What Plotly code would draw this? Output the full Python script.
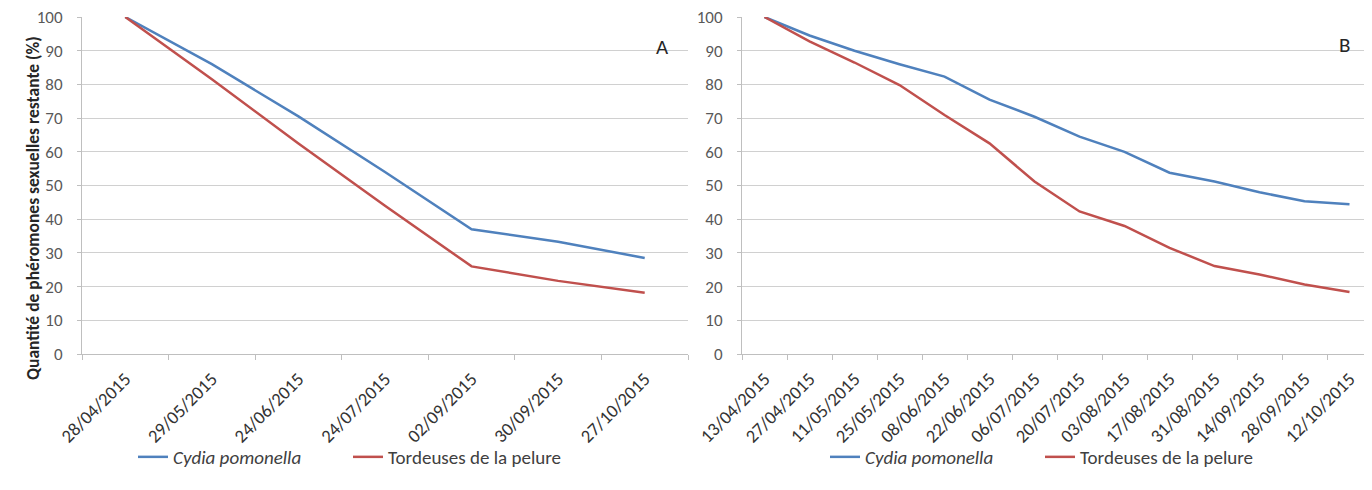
import plotly.graph_objects as go

# ---- data ----
dates_a = ["28/04/2015", "29/05/2015", "24/06/2015", "24/07/2015", "02/09/2015", "30/09/2015", "27/10/2015"]
cydia_a = [100, 86, 70.5, 54, 37, 33.3, 28.5]
tord_a = [100, 81.5, 62.5, 44, 26, 21.7, 18.2]

dates_b = ["13/04/2015", "27/04/2015", "11/05/2015", "25/05/2015", "08/06/2015", "22/06/2015", "06/07/2015",
           "20/07/2015", "03/08/2015", "17/08/2015", "31/08/2015", "14/09/2015", "28/09/2015", "12/10/2015"]
cydia_b = [100, 94.5, 90, 86, 82.3, 75.5, 70.4, 64.5, 60, 53.8, 51.2, 48, 45.3, 44.4]
tord_b = [100, 92.8, 86.5, 79.8, 70.9, 62.5, 51.2, 42.3, 38, 31.5, 26.1, 23.6, 20.6, 18.4]

series_names = ["<i>Cydia pomonella</i>", "Tordeuses de la pelure"]
y_ticks = [0, 10, 20, 30, 40, 50, 60, 70, 80, 90, 100]

BLUE = "#4F81BD"
RED = "#C0504D"
FONT = "Carlito, Liberation Sans Narrow, Liberation Sans, Arial"

fig = go.Figure()

fig.add_trace(go.Scatter(x=dates_a, y=cydia_a, mode="lines", name=series_names[0],
                         line=dict(color=BLUE, width=2.5), xaxis="x", yaxis="y", legend="legend"))
fig.add_trace(go.Scatter(x=dates_a, y=tord_a, mode="lines", name=series_names[1],
                         line=dict(color=RED, width=2.5), xaxis="x", yaxis="y", legend="legend"))
fig.add_trace(go.Scatter(x=dates_b, y=cydia_b, mode="lines", name=series_names[0],
                         line=dict(color=BLUE, width=2.5), xaxis="x2", yaxis="y2", legend="legend2"))
fig.add_trace(go.Scatter(x=dates_b, y=tord_b, mode="lines", name=series_names[1],
                         line=dict(color=RED, width=2.5), xaxis="x2", yaxis="y2", legend="legend2"))

# page body has an 8px margin; the figure is sized to fit the remaining viewport
OFF = 8
W, H = 1372 - OFF, 490 - OFF


def px(x):
    return (x - OFF) / W


def py(y):
    return 1 - (y - OFF) / H


xaxis_common = dict(type="category", tickangle=-45, ticks="outside", ticklen=5, tickcolor="#BFBFBF",
                    tickson="boundaries", showgrid=False, showline=True, linecolor="#BFBFBF", linewidth=1,
                    tickfont=dict(family=FONT, size=18.5, color="#333333"), fixedrange=True, zeroline=False,
                    automargin=False, ticklabelstandoff=6, ticklabeloverflow="allow")
yaxis_common = dict(range=[0, 100], tickvals=y_ticks, ticks="outside", ticklen=4, tickcolor="#BFBFBF",
                    showgrid=True, gridcolor="#D0D0D0", gridwidth=1, showline=True, linecolor="#BFBFBF",
                    linewidth=1, zeroline=False, tickfont=dict(family=FONT, size=17, color="#595959"),
                    domain=[py(354), py(17)], automargin=False, ticklabelstandoff=11,
                    ticklabeloverflow="allow")

legend_common = dict(orientation="h", xanchor="center", yanchor="middle", y=py(457),
                     font=dict(family=FONT, size=19, color="#404040"), bgcolor="rgba(0,0,0,0)",
                     entrywidth=170, entrywidthmode="pixels")

fig.update_layout(
    width=W, height=H,
    margin=dict(l=0, r=0, t=0, b=0, autoexpand=False),
    paper_bgcolor="white", plot_bgcolor="white",
    font=dict(family=FONT, color="#404040"),
    xaxis=dict(xaxis_common, domain=[px(82), px(688)], anchor="y", range=[-0.5, len(dates_a) - 0.5]),
    yaxis=dict(yaxis_common, anchor="x"),
    xaxis2=dict(xaxis_common, domain=[px(742), 1.0], anchor="y2", range=[-0.5, len(dates_b) - 0.5]),
    yaxis2=dict(yaxis_common, anchor="x2"),
    legend=dict(legend_common, x=px(348)),
    legend2=dict(legend_common, x=px(1040)),
    showlegend=True,
    annotations=[
        dict(text="<b>Quantité de phéromones sexuelles restante (%)</b>", textangle=-90,
             x=px(20), y=py(208), xref="paper", yref="paper", showarrow=False,
             font=dict(family=FONT, size=17.5, color="#262626")),
        dict(text="A", x=px(662), y=py(32), xref="paper", yref="paper", showarrow=False,
             font=dict(family=FONT, size=21, color="#262626")),
        dict(text="B", x=px(1352), y=py(30), xref="paper", yref="paper", showarrow=False,
             font=dict(family=FONT, size=21, color="#262626")),
    ],
)

fig.write_html("out.html")
